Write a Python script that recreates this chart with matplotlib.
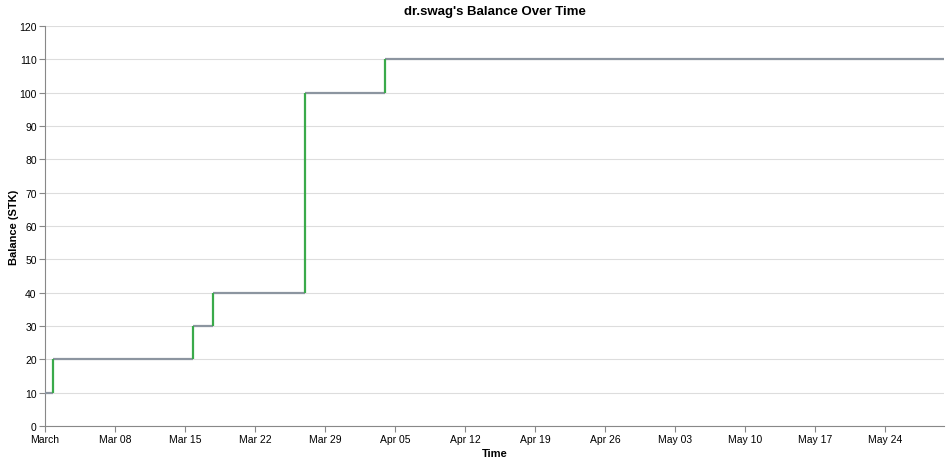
import matplotlib
matplotlib.use("Agg")
import matplotlib.pyplot as plt
import pandas as pd

plt.rcParams['font.family'] = ['Liberation Sans', 'DejaVu Sans']

# balance history (step changes), last point marks end of the window
times = ["2026-03-01 00:00", "2026-03-01 19:00", "2026-03-15 19:00", "2026-03-17 19:00",
         "2026-03-27 01:00", "2026-04-04 01:00", "2026-05-29 21:30"]
balance = [10, 20, 30, 40, 100, 110, 110]

tick_dates = ["2026-03-01", "2026-03-08", "2026-03-15", "2026-03-22", "2026-03-29",
              "2026-04-05", "2026-04-12", "2026-04-19", "2026-04-26", "2026-05-03",
              "2026-05-10", "2026-05-17", "2026-05-24"]
tick_labels = ["March", "Mar 08", "Mar 15", "Mar 22", "Mar 29", "Apr 05", "Apr 12",
               "Apr 19", "Apr 26", "May 03", "May 10", "May 17", "May 24"]

t = pd.to_datetime(times)

fig = plt.figure(figsize=(9.51, 4.64), dpi=100)
ax = fig.add_axes([45 / 951, 37 / 464, 899 / 951, 400 / 464])

gray = '#8c95a0'
green = '#3aaa4a'

# flat parts in gray, rises in green
ax.hlines(balance[:-1], t[:-1], t[1:], color=gray, linewidth=1.6, zorder=3)
ax.vlines(t[1:-1], balance[:-2], balance[1:-1], color=green, linewidth=1.6, zorder=4)

ax.set_xlim(t[0], t[-1])
ax.set_ylim(0, 120)
ax.set_yticks(range(0, 121, 10))
ax.set_xticks(pd.to_datetime(tick_dates))
ax.set_xticklabels(tick_labels)

ax.grid(axis='y', color='#dddddd', linewidth=0.8, zorder=0)
for s in ['top', 'right']:
    ax.spines[s].set_visible(False)
for s in ['left', 'bottom']:
    ax.spines[s].set_color('#888888')
    ax.spines[s].set_linewidth(0.8)
ax.tick_params(axis='both', direction='out', length=4, width=0.8, color='#888888',
               labelsize=7.5, pad=2)

ax.set_title("dr.swag's Balance Over Time", fontsize=9.5, fontweight='bold', pad=9)
ax.set_xlabel("Time", fontsize=8, fontweight='bold', labelpad=3)
ax.set_ylabel("Balance (STK)", fontsize=8, fontweight='bold', labelpad=0)

fig.savefig("out.png", dpi=100)
